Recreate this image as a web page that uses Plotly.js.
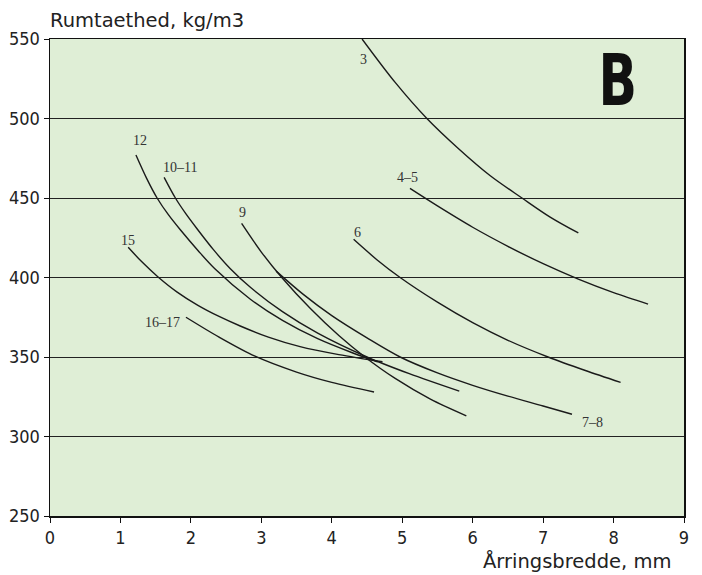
<!DOCTYPE html>
<html>
<head>
<meta charset="utf-8">
<script src="https://cdn.plot.ly/plotly-3.0.1.min.js"></script>
<style>html,body{margin:0;padding:0;background:#fff;}#chart{width:702px;height:575px;}</style>
</head>
<body>
<div id="chart"></div>
<script>
// Curve data (Årringsbredde mm, Rumtaethed kg/m3)
const c3x = [4.43, 4.9, 5.35, 5.8, 6.25, 6.7, 7.1, 7.5];
const c3y = [550, 522.7, 500, 481, 464, 450, 438, 428];
const c45x = [5.11, 5.5, 6.0, 6.5, 7.0, 7.5, 8.0, 8.49];
const c45y = [456, 445, 431.6, 419.6, 408.7, 399, 390.5, 383.3];
const c6x = [4.31, 4.64, 4.97, 5.5, 6.0, 6.5, 7.07, 7.6, 8.1];
const c6y = [424, 411.2, 400, 384.5, 371.6, 360.5, 350, 341.5, 334];
const c78x = [3.21, 3.6, 4.0, 4.5, 4.97, 5.5, 6.0, 6.5, 7.0, 7.41];
const c78y = [404, 389.2, 376, 362, 350, 340, 332.2, 325.4, 319.2, 314];
const c9x = [2.72, 3.0, 3.29, 3.7, 4.1, 4.47, 4.9, 5.4, 5.91];
const c9y = [434, 416, 400, 380.3, 363.5, 350, 336.5, 323.5, 313];
const c1011x = [1.62, 1.78, 1.93, 2.09, 2.32, 2.56, 2.84, 3.3, 3.8, 4.5, 5.1, 5.81];
const c1011y = [463, 450, 440, 430.5, 417.5, 405.5, 394, 378.5, 365, 350, 339.5, 328.5];
const c12x = [1.22, 1.37, 1.52, 1.68, 1.85, 2.1, 2.34, 2.84, 3.3, 3.8, 4.3, 4.65];
const c12y = [477, 462.5, 450, 439.5, 430, 417, 405.5, 386.5, 373, 361.5, 352.5, 347];
const c15x = [1.11, 1.3, 1.53, 1.8, 2.1, 2.4, 2.7, 3.1, 3.55, 4.1, 4.72];
const c15y = [419, 410, 400.5, 391, 382.5, 375.5, 369.5, 362.5, 356.5, 351.5, 347];
const c1617x = [1.93, 2.4, 2.91, 3.5, 4.0, 4.6];
const c1617y = [375, 362.5, 350.5, 340.5, 334, 328];

// Curve labels
const labelText = ["3", "4–5", "6", "7–8", "9", "10–11", "12", "15", "16–17"];
const labelX = [4.45, 5.07, 4.36, 7.7, 2.73, 1.85, 1.28, 1.11, 1.6];
const labelY = [537, 462.6, 428, 308.5, 440.6, 469, 486, 423, 372];

// Axis ticks
const xTicks = [0, 1, 2, 3, 4, 5, 6, 7, 8, 9];
const yTicks = [250, 300, 350, 400, 450, 500, 550];

const curves = [[c3x,c3y],[c45x,c45y],[c6x,c6y],[c78x,c78y],[c9x,c9y],[c1011x,c1011y],[c12x,c12y],[c15x,c15y],[c1617x,c1617y]];
const traces = curves.map((c, i) => ({
  x: c[0], y: c[1], type: 'scatter', mode: 'lines',
  line: {color: '#1a1a1a', width: 1.4, shape: 'spline', smoothing: 0.9},
  name: labelText[i], showlegend: false, hoverinfo: 'skip'
}));

const tickFont = {family: 'Liberation Sans Narrow, DejaVu Sans Condensed, sans-serif', size: 18, color: '#222'};
const titleFont = {family: 'DejaVu Sans, sans-serif', size: 19.5, color: '#222'};

const annotations = labelText.map((t, i) => ({
  x: labelX[i], y: labelY[i], xref: 'x', yref: 'y', text: t, showarrow: false,
  font: {family: 'Liberation Serif, DejaVu Serif, serif', size: 14, color: '#333'}
}));
annotations.push({
  x: 8.05, y: 524, xref: 'x', yref: 'y', text: '<b>B</b>', showarrow: false,
  font: {family: 'Liberation Sans Narrow, DejaVu Sans Condensed, sans-serif', size: 72, color: '#111'}
});
annotations.push({
  x: 0, y: 1, xref: 'paper', yref: 'paper', xanchor: 'left', yanchor: 'bottom', yshift: 5, xshift: -2,
  text: 'Rumtaethed, kg/m3', showarrow: false, font: titleFont
});
annotations.push({
  x: 8.84, y: 0, xref: 'x', yref: 'paper', xanchor: 'right', yanchor: 'top', yshift: -32,
  text: 'Årringsbredde, mm', showarrow: false, font: titleFont
});

const layout = {
  width: 702, height: 575,
  margin: {l: 50, r: 18, t: 39, b: 59},
  paper_bgcolor: '#ffffff',
  plot_bgcolor: '#dfeed6',
  showlegend: false,
  xaxis: {
    range: [0, 9], tickvals: xTicks, ticktext: xTicks.map(String),
    showgrid: false, zeroline: false,
    showline: true, linecolor: '#111', linewidth: 1.5, mirror: true,
    ticks: 'outside', ticklen: 5, tickcolor: '#111',
    tickfont: tickFont
  },
  yaxis: {
    range: [250, 550], tickvals: yTicks, ticktext: yTicks.map(String),
    showgrid: true, gridcolor: '#222', gridwidth: 1, zeroline: false,
    showline: true, linecolor: '#111', linewidth: 1.5, mirror: true,
    ticks: 'outside', ticklen: 5, tickcolor: '#111',
    tickfont: tickFont
  },
  annotations: annotations
};

Plotly.newPlot('chart', traces, layout, {displayModeBar: false, staticPlot: true}).then(() => {
  const el = Array.from(document.querySelectorAll('text.annotation-text')).find(t => t.textContent === 'B');
  if (el) {
    const bb = el.getBBox();
    const cx = bb.x + bb.width / 2;
    const prev = el.getAttribute('transform') || '';
    el.setAttribute('transform', prev + ` translate(${cx},0) scale(0.78,1) translate(${-cx},0)`);
  }
});
</script>
</body>
</html>
